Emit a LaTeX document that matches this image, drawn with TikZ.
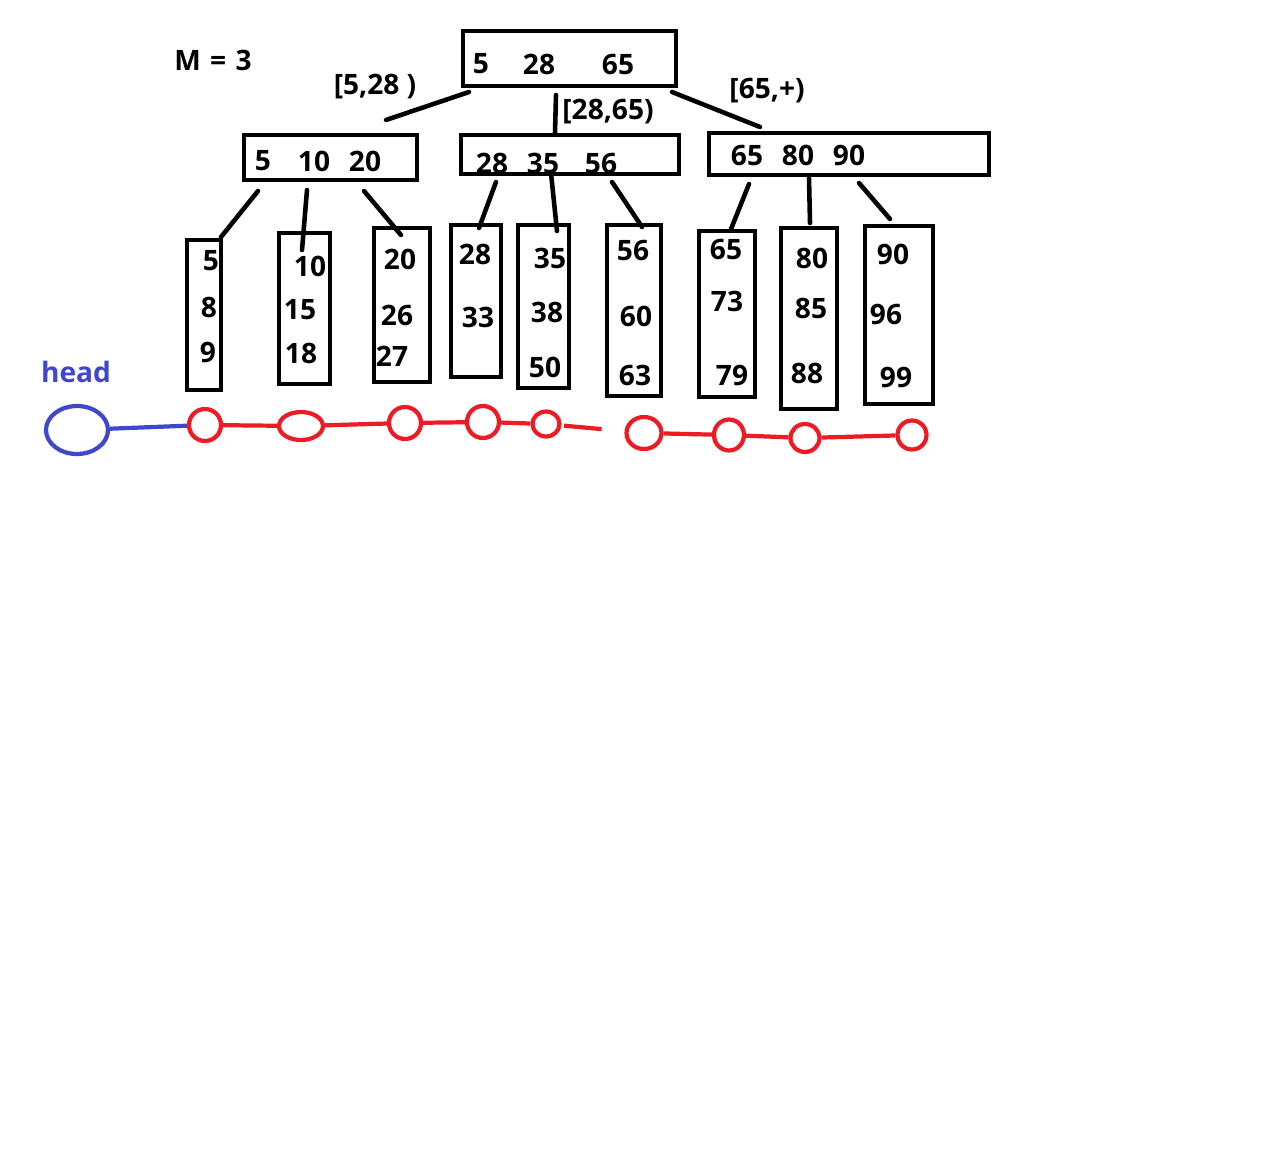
\documentclass[tikz,border=0pt]{standalone}
\usepackage{fontspec}
\setmainfont{Open Sans}
\usepackage{xcolor}
\usepackage{tikz}
\usetikzlibrary{fit}
\definecolor{paintred}{RGB}{237,28,36}
\definecolor{paintblue}{RGB}{63,72,204}
\tikzset{
  box/.style={draw, line width=2.6pt, inner sep=0pt},
  num/.style={font=\fontsize{16}{18}\selectfont\bfseries, inner sep=0pt},
  edge/.style={line width=2.6pt, line cap=round},
  ring/.style={draw=paintred, line width=2.4pt, ellipse, inner sep=0pt},
  link/.style={draw=paintred, line width=2.4pt},
}
\usetikzlibrary{shapes.geometric}

\begin{document}
\begin{tikzpicture}[x=0.02cm, y=-0.02cm]
\useasboundingbox (0,0) rectangle (1274,1156);

\node[num] (m) at (213,60) {M\,\,=\,\,3};

% root
\node[box, fit={(463,31) (676,86)}] (root) {};
\node[num] (root-a) at (481,64) {5};
\node[num] (root-b) at (539,64) {28};
\node[num] (root-c) at (618,64) {65};

% internal nodes
\node[box, fit={(244,135) (417,180)}] (inA) {};
\node[num] (inA-a) at (263,161) {5};
\node[num] (inA-b) at (314,161) {10};
\node[num] (inA-c) at (365,161) {20};
\node[box, fit={(461,135) (679,174)}] (inB) {};
\node[num] (inB-a) at (492,163) {28};
\node[num] (inB-b) at (543,163) {35};
\node[num] (inB-c) at (601,163) {56};
\node[box, fit={(709,133) (989,175)}] (inC) {};
\node[num] (inC-a) at (747,155) {65};
\node[num] (inC-b) at (798,155) {80};
\node[num] (inC-c) at (849,155) {90};

% ranges
\node[num] (rgA) at (375,87) {[5,28 )};
\node[num] (rgB) at (608,112) {[28,65)};
\node[num] (rgC) at (767,91) {[65,+)};

% leaves
\node[box, fit={(187,240) (221,390)}] (leaf1) {};
\node[num] (leaf1-a) at (211,261) {5};
\node[num] (leaf1-b) at (209,307) {8};
\node[num] (leaf1-c) at (208,352) {9};
\node[box, fit={(279,233) (330,384)}] (leaf2) {};
\node[num] (leaf2-a) at (310,266) {10};
\node[num] (leaf2-b) at (300,310) {15};
\node[num] (leaf2-c) at (301,353) {18};
\node[box, fit={(374,228) (430,382)}] (leaf3) {};
\node[num] (leaf3-a) at (400,259) {20};
\node[num] (leaf3-b) at (397,315) {26};
\node[num] (leaf3-c) at (392,356) {27};
\node[box, fit={(451,225) (501,377)}] (leaf4) {};
\node[num] (leaf4-a) at (475,254) {28};
\node[num] (leaf4-b) at (478,317) {33};
\node[box, fit={(518,225) (569,388)}] (leaf5) {};
\node[num] (leaf5-a) at (550,258) {35};
\node[num] (leaf5-b) at (547,312) {38};
\node[num] (leaf5-c) at (545,367) {50};
\node[box, fit={(607,225) (661,396)}] (leaf6) {};
\node[num] (leaf6-a) at (633,250) {56};
\node[num] (leaf6-b) at (636,316) {60};
\node[num] (leaf6-c) at (635,375) {63};
\node[box, fit={(699,231) (755,397)}] (leaf7) {};
\node[num] (leaf7-a) at (726,249) {65};
\node[num] (leaf7-b) at (727,301) {73};
\node[num] (leaf7-c) at (732,375) {79};
\node[box, fit={(781,228) (837,409)}] (leaf8) {};
\node[num] (leaf8-a) at (812,258) {80};
\node[num] (leaf8-b) at (811,308) {85};
\node[num] (leaf8-c) at (807,373) {88};
\node[box, fit={(865,226) (933,404)}] (leaf9) {};
\node[num] (leaf9-a) at (893,254) {90};
\node[num] (leaf9-b) at (886,314) {96};
\node[num] (leaf9-c) at (896,377) {99};

% tree edges
\coordinate (rA) at (469,92);  \coordinate (tA) at (386,120);
\coordinate (rB) at (556,95);  \coordinate (tB) at (555,133);
\coordinate (rC) at (672,92);  \coordinate (tC) at (760,127);
\draw[edge] (rA) -- (tA);
\draw[edge] (rB) -- (tB);
\draw[edge] (rC) -- (tC);

\coordinate (a1) at (258,191); \coordinate (b1) at (221,237);
\coordinate (a2) at (307,190); \coordinate (b2) at (302,250);
\coordinate (a3) at (364,191); \coordinate (b3) at (401,235);
\coordinate (a4) at (496,182); \coordinate (b4) at (479,228);
\coordinate (a5) at (551,173); \coordinate (b5) at (557,231);
\coordinate (a6) at (612,182); \coordinate (b6) at (642,227);
\coordinate (a7) at (749,184); \coordinate (b7) at (731,229);
\coordinate (a8) at (809,178); \coordinate (b8) at (810,223);
\coordinate (a9) at (859,183); \coordinate (b9) at (890,219);
\foreach \i in {1,...,9}
  \draw[edge] (a\i) -- (b\i);

% leaf list
\node[text=paintblue, num] (head) at (76,372) {head};
\node[ring, draw=paintblue, minimum width=1.24cm, minimum height=0.96cm] (h) at (77,430) {};
\node[ring, minimum width=0.64cm, minimum height=0.64cm] (c1) at (205,425) {};
\node[ring, minimum width=0.88cm, minimum height=0.56cm] (c2) at (301,426) {};
\node[ring, minimum width=0.64cm, minimum height=0.64cm] (c3) at (405,423) {};
\node[ring, minimum width=0.64cm, minimum height=0.64cm] (c4) at (483,422) {};
\node[ring, minimum width=0.54cm, minimum height=0.50cm] (c5) at (546,424) {};
\node[ring, minimum width=0.70cm, minimum height=0.64cm] (c6) at (644,433) {};
\node[ring, minimum width=0.60cm, minimum height=0.62cm] (c7) at (729,435) {};
\node[ring, minimum width=0.58cm, minimum height=0.56cm] (c8) at (805,438) {};
\node[ring, minimum width=0.58cm, minimum height=0.58cm] (c9) at (912,435) {};

\draw[link, draw=paintblue] (h) -- (c1);
\draw[link] (c1) -- (c2);
\draw[link] (c2) -- (c3);
\draw[link] (c3) -- (c4);
\draw[link] (c4) -- (c5);
\draw[link, shorten <=0.05cm, shorten >=0.46cm] (c5) -- (c6);
\draw[link] (c6) -- (c7);
\draw[link] (c7) -- (c8);
\draw[link] (c8) -- (c9);
\end{tikzpicture}
\end{document}
